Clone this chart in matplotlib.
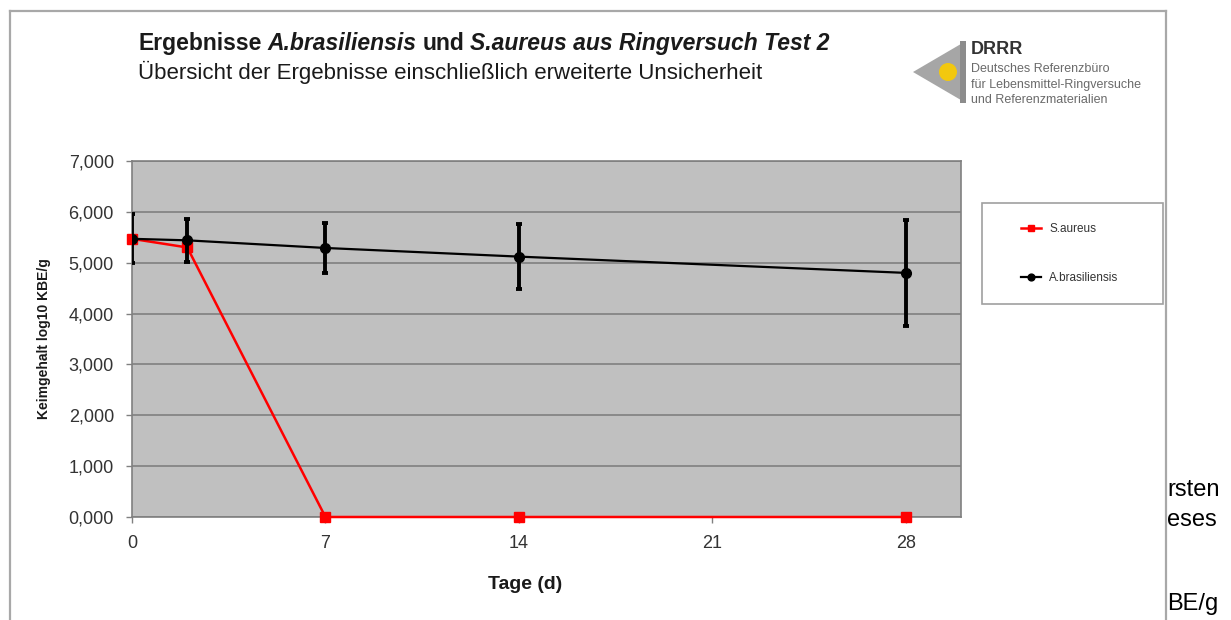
import matplotlib
matplotlib.use("Agg")
import matplotlib.pyplot as plt
from matplotlib.patches import Polygon, Circle, Rectangle
from matplotlib.ticker import FuncFormatter

plt.rcParams['font.family'] = ['Liberation Sans', 'DejaVu Sans']

# data
days = [0, 2, 7, 14, 28]
brasiliensis = [5.47, 5.44, 5.29, 5.12, 4.80]
brasiliensis_err = [0.48, 0.42, 0.50, 0.64, 1.04]
aureus = [5.47, 5.30, 0.0, 0.0, 0.0]
xticks = [0, 7, 14, 21, 28]

W, H = 1231, 620
fig = plt.figure(figsize=(W / 100, H / 100), dpi=100)

# background axes in pixel coords for the frame, titles and logo
bg = fig.add_axes([0, 0, 1, 1], zorder=0)
bg.set_xlim(0, W)
bg.set_ylim(H, 0)
bg.axis('off')

# page text peeking out from behind the picture
for txt, yy in [("rsten", 490), ("eses", 520), ("BE/g", 604)]:
    bg.text(1167, yy, txt, fontsize=17, va='center', ha='left', color='black')

frame_col = '#a8a8a8'
bg.plot([10, 1166], [11, 11], color=frame_col, lw=1.6)
bg.plot([10, 10], [11, 620], color=frame_col, lw=1.6)
bg.plot([1166, 1166], [11, 620], color=frame_col, lw=1.6)

# title built from pieces (bold / bold italic), all on one baseline
fig.canvas.draw()
rend = fig.canvas.get_renderer()
pieces = [("Ergebnisse", 'normal'), ("A.brasiliensis", 'italic'),
          ("und", 'normal'), ("S.aureus aus Ringversuch Test 2", 'italic')]
x = 138
for s, st in pieces:
    t = bg.text(x, 50, s, fontsize=16.5, fontweight='bold', style=st,
                va='baseline', ha='left', color='#1a1a1a')
    bb = t.get_window_extent(renderer=rend)
    x += bb.width + 6
bg.text(138, 72, "Übersicht der Ergebnisse einschließlich erweiterte Unsicherheit",
        fontsize=16, va='center', ha='left', color='#1a1a1a')

# DRRR logo
bg.add_patch(Polygon([[913, 72], [966, 41], [966, 103]], closed=True,
                     facecolor='#a6a6a6', edgecolor='none'))
bg.add_patch(Rectangle((960, 41), 6, 62, facecolor='#8c8c8c', edgecolor='none'))
bg.add_patch(Circle((948, 72), 9, facecolor='#f2c80f', edgecolor='none'))
bg.text(971, 49, "DRRR", fontsize=13, fontweight='bold', va='center', ha='left', color='#333333')
for s, yy in [("Deutsches Referenzbüro", 69), ("für Lebensmittel-Ringversuche", 85),
              ("und Referenzmaterialien", 100)]:
    bg.text(971, yy, s, fontsize=9, va='center', ha='left', color='#6a6a6a')

# legend box
bg.add_patch(Rectangle((982, 203), 181, 101, facecolor='white', edgecolor='#a0a0a0', lw=1.2))

# main plot area
ax = fig.add_axes([132 / W, 1 - 517 / H, (961 - 132) / W, (517 - 161) / H], zorder=1)
ax.set_facecolor('#c0c0c0')
ax.set_xlim(0, 30)
ax.set_ylim(0, 7)
ax.set_yticks(range(0, 8))
ax.set_xticks(xticks)
ax.yaxis.set_major_formatter(FuncFormatter(lambda v, p: f"{v:.3f}".replace('.', ',')))
ax.grid(axis='y', color='#808080', lw=1.2)
ax.set_axisbelow(True)
for sp in ax.spines.values():
    sp.set_color('#808080')
    sp.set_linewidth(1.2)
ax.tick_params(colors='#333333', labelsize=13, length=4, width=1, color='#808080', pad=9)

l_aur, = ax.plot(days, aureus, color='#ff0000', lw=1.8, marker='s', ms=6.5,
                 label='S.aureus', zorder=3, clip_on=False)
ax.errorbar(days, brasiliensis, yerr=brasiliensis_err, fmt='none', ecolor='black',
            elinewidth=2.8, capsize=2, capthick=2.8, zorder=4)
l_bra, = ax.plot(days, brasiliensis, color='black', lw=1.6, marker='o', ms=7,
                 label='A.brasiliensis', zorder=5)

ax.set_xlabel("Tage (d)", fontsize=14, fontweight='bold', color='#1a1a1a')
ax.xaxis.set_label_coords((525 - 132) / 829, -(576 - 517) / 356)
ax.set_ylabel("Keimgehalt log10 KBE/g", fontsize=10, fontweight='bold', color='#1a1a1a')
ax.yaxis.set_label_coords(-(132 - 51) / 829, 0.5)

fig.legend(handles=[l_aur, l_bra], loc='center left',
           bbox_to_anchor=(1015 / W, 1 - 253.5 / H), frameon=False,
           fontsize=8.5, labelspacing=3.1, handlelength=1.7, handletextpad=0.7,
           borderpad=0, markerscale=0.7, labelcolor='#333333')

fig.savefig("out.png", dpi=100)
